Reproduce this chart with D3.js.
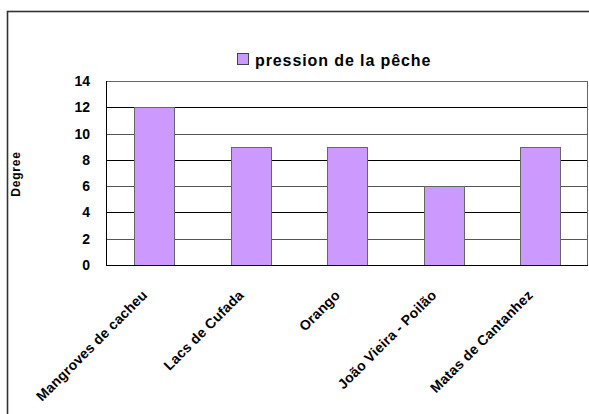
<!DOCTYPE html>
<html>
<head>
<meta charset="utf-8">
<script src="https://cdn.jsdelivr.net/npm/d3@7"></script>
<style>
  html, body { margin: 0; padding: 0; background: #fff; }
  svg { display: block; font-family: "Liberation Sans", Arial, sans-serif; }
</style>
</head>
<body>
<svg id="chart" width="589" height="414"></svg>
<script>
const categories = ["Mangroves de cacheu", "Lacs de Cufada", "Orango", "João Vieira - Poilão", "Matas de Cantanhez"];
const values = [12, 9, 9, 6, 9];
const seriesName = "pression de la pêche";
const yTicks = [0, 2, 4, 6, 8, 10, 12, 14];
const yTitle = "Degree";

const svg = d3.select("#chart");
const plot = { left: 106, top: 81, right: 588, bottom: 265 };

// outer chart border
svg.append("rect")
  .attr("x", 7.5).attr("y", 11.5)
  .attr("width", 620).attr("height", 440)
  .attr("fill", "#fff").attr("stroke", "#333").attr("stroke-width", 1.6);

const x = d3.scaleBand().domain(categories)
  .range([plot.left, plot.right]).paddingInner(0.59).paddingOuter(0.295);
const y = d3.scaleLinear().domain([0, 14]).range([plot.bottom, plot.top]);

// gridlines
svg.append("g").selectAll("line").data(yTicks.filter(t => t > 0 && t < 14)).join("line")
  .attr("x1", plot.left).attr("x2", plot.right)
  .attr("y1", d => Math.round(y(d)) + 0.5).attr("y2", d => Math.round(y(d)) + 0.5)
  .attr("stroke", (d, i) => (i % 2 === 0 ? "#555" : "#000")).attr("stroke-width", 1);

// plot area border
svg.append("rect")
  .attr("x", plot.left + 0.5).attr("y", plot.top + 0.5)
  .attr("width", plot.right - plot.left - 1).attr("height", plot.bottom - plot.top)
  .attr("fill", "none").attr("stroke", "#666").attr("stroke-width", 1);

// bars
svg.append("g").selectAll("rect").data(categories).join("rect")
  .attr("x", d => Math.round(x(d)) + 0.5)
  .attr("y", (d, i) => Math.round(y(values[i])) + 0.5)
  .attr("width", Math.round(x.bandwidth()))
  .attr("height", (d, i) => Math.round(y(0)) - Math.round(y(values[i])))
  .attr("fill", "#CC99FF").attr("stroke", "#666").attr("stroke-width", 1);

// axes lines
svg.append("line").attr("x1", plot.left + 0.5).attr("x2", plot.left + 0.5)
  .attr("y1", plot.top).attr("y2", plot.bottom + 0.5).attr("stroke", "#000");
svg.append("line").attr("x1", plot.left).attr("x2", plot.right)
  .attr("y1", plot.bottom + 0.5).attr("y2", plot.bottom + 0.5).attr("stroke", "#000");

// y axis
const yAxis = d3.axisLeft(y).tickValues(yTicks).tickSize(0).tickPadding(0);
const ya = svg.append("g").attr("transform", `translate(${plot.left - 16},0)`).call(yAxis);
ya.select(".domain").remove();
ya.selectAll("text").attr("font-size", 14)
  .attr("font-weight", "bold").attr("fill", "#000")
  .attr("font-family", "Liberation Sans, Arial, sans-serif");

// x axis labels
const xAxis = d3.axisBottom(x).tickSize(0).tickPadding(0);
const xa = svg.append("g").attr("transform", `translate(0,${plot.bottom})`).call(xAxis);
xa.select(".domain").remove();
xa.selectAll("text")
  .attr("font-size", 14).attr("letter-spacing", 0.2)
  .attr("font-weight", "bold").attr("fill", "#000")
  .attr("font-family", "Liberation Sans, Arial, sans-serif")
  .attr("text-anchor", "end")
  .attr("dy", 0)
  .attr("y", 0)
  .attr("transform", "translate(-6,31) rotate(-45)");

// y title
svg.append("text")
  .attr("transform", "translate(20,174) rotate(-90)")
  .attr("text-anchor", "middle")
  .attr("font-size", 12).attr("letter-spacing", 0.8)
  .attr("font-weight", "bold").text(yTitle);

// legend
svg.append("rect").attr("x", 237.5).attr("y", 53.5).attr("width", 11).attr("height", 11)
  .attr("fill", "#CC99FF").attr("stroke", "#444").attr("stroke-width", 1);
svg.append("text").attr("x", 255).attr("y", 65.5)
  .attr("font-size", 16).attr("letter-spacing", 0.9)
  .attr("font-weight", "bold").text(seriesName);
</script>
</body>
</html>
